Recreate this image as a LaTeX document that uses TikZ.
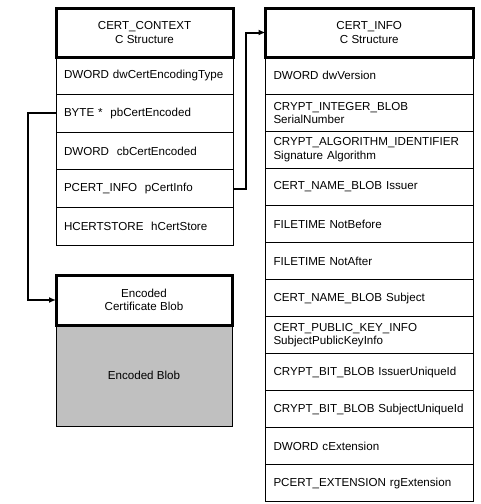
\documentclass[tikz,border=0pt]{standalone}
\usepackage{fontspec}
\setmainfont{Liberation Sans}
\usepackage[]{xcolor}
\usetikzlibrary{positioning}
\usetikzlibrary{arrows.meta}
\definecolor{blobgray}{RGB}{192,192,192}
\hyphenpenalty=10000
\tikzset{hdr/.style={draw,line width=3pt,fill=white,minimum width=#1,minimum height=49pt,inner sep=0pt,outer sep=0pt,align=center}}
\tikzset{fld/.style={draw,line width=1pt,text width=#1,inner xsep=8pt,inner ysep=2pt,outer sep=0pt,align=left}}
\tikzset{lfld/.style={fld=161pt,minimum height=37.6pt}}
\tikzset{rfld/.style={fld=191.5pt,minimum height=37.08pt}}
\tikzset{link/.style={line width=2pt,-{Latex[length=7pt,width=6pt]}}}

\begin{document}
\begin{tikzpicture}[x=1pt,y=-1pt,font=\fontsize{11.6}{13.2}\selectfont]
            \useasboundingbox (0,0) rectangle (480,504);
            % CERT_CONTEXT
            \node[hdr=177pt,anchor=north west] (ctx) at (56,8) {CERT\_CONTEXT\\C Structure};
            \node[lfld,below=0pt of ctx] (enctype) {DWORD dwCertEncodingType};
            \node[lfld,below=0pt of enctype] (pbenc) {BYTE * ~pbCertEncoded};
            \node[lfld,below=0pt of pbenc] (cbenc) {DWORD ~cbCertEncoded};
            \node[lfld,below=0pt of cbenc] (pinfo) {PCERT\_INFO ~pCertInfo};
            \node[lfld,below=0pt of pinfo] (store) {HCERTSTORE ~hCertStore};
            % CERT_INFO
            \node[hdr=207.5pt,anchor=north west] (info) at (265.5,8) {CERT\_INFO\\C Structure};
            \node[rfld,below=0pt of info] (version) {DWORD dwVersion};
            \node[rfld,below=0pt of version] (serial) {CRYPT\_INTEGER\_BLOB\\SerialNumber};
            \node[rfld,below=0pt of serial] (sigalg) {CRYPT\_ALGORITHM\_IDENTIFIER\\Signature Algorithm};
            \node[rfld,below=0pt of sigalg] (issuer) {CERT\_NAME\_BLOB Issuer};
            \node[rfld,below=0pt of issuer] (before) {FILETIME NotBefore};
            \node[rfld,below=0pt of before] (after) {FILETIME NotAfter};
            \node[rfld,below=0pt of after] (subject) {CERT\_NAME\_BLOB Subject};
            \node[rfld,below=0pt of subject] (pubkey) {CERT\_PUBLIC\_KEY\_INFO\\SubjectPublicKeyInfo};
            \node[rfld,below=0pt of pubkey] (issuerid) {CRYPT\_BIT\_BLOB~IssuerUniqueId};
            \node[rfld,below=0pt of issuerid] (subjectid) {CRYPT\_BIT\_BLOB~SubjectUniqueId};
            \node[rfld,below=0pt of subjectid] (cext) {DWORD cExtension};
            \node[rfld,below=0pt of cext] (rgext) {PCERT\_EXTENSION~rgExtension};
            % encoded blob
            \node[draw,line width=1pt,fill=blobgray,minimum width=176pt,minimum height=101pt,outer sep=0pt,anchor=north west] (blob) at (56,325) {Encoded Blob};
            \node[hdr=176pt,minimum height=50pt,above=0pt of blob] (blobhdr) {Encoded\\Certificate Blob};
            % links
            \draw[link] (pbenc.west) -- ++(-28,0) |- (blobhdr.west);
            \draw[link] (pinfo.east) -- ++(13,0) |- (info.west);
        \end{tikzpicture}
\end{document}
